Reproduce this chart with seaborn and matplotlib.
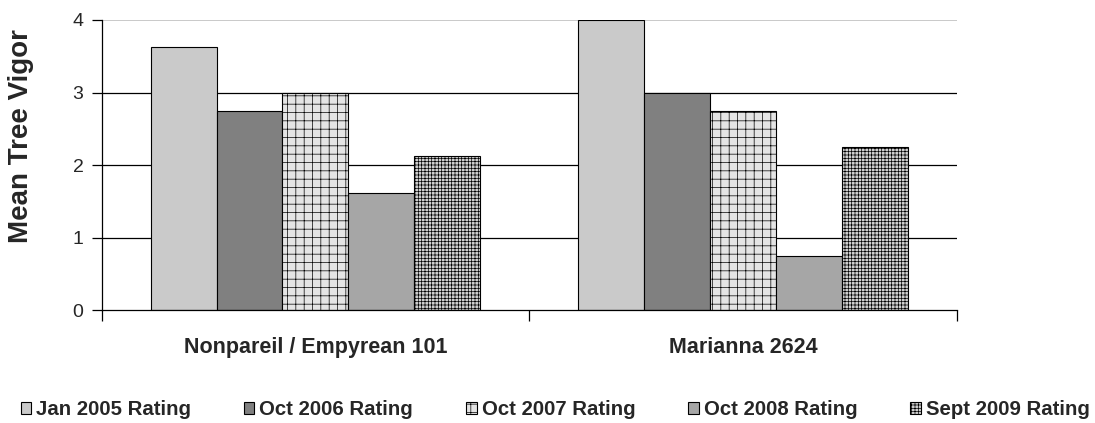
import pandas as pd
import numpy as np
import matplotlib.pyplot as plt
import seaborn as sns

# data
rootstocks = ['Nonpareil / Empyrean 101', 'Marianna 2624']
ratings = ['Jan 2005 Rating', 'Oct 2006 Rating', 'Oct 2007 Rating',
           'Oct 2008 Rating', 'Sept 2009 Rating']
nonpareil = [3.62, 2.75, 3.0, 1.62, 2.13]
marianna = [4.0, 3.0, 2.75, 0.75, 2.25]

df = pd.DataFrame({
    'rootstock': [rootstocks[0]] * 5 + [rootstocks[1]] * 5,
    'rating': ratings * 2,
    'vigor': nonpareil + marianna,
})

sns.set_style('white')
plt.rcParams['font.family'] = ['Liberation Sans', 'DejaVu Sans']
plt.rcParams['hatch.linewidth'] = 0.5

fills = ['#cacaca', '#808080', '#e4e4e4', '#a6a6a6', '#d0d0d0']
hatches = ['', '', '++', '', '+++++']

fig = plt.figure(figsize=(10.95, 4.23), dpi=100)
ax = fig.add_axes([0.0927, 0.266, 0.781, 0.687])

sns.barplot(data=df, x='rootstock', y='vigor', hue='rating', palette=fills,
            width=0.77, edgecolor='black', linewidth=0.8, saturation=1,
            errorbar=None, ax=ax, legend=True)

for cont, h in zip(ax.containers, hatches):
    for p in cont:
        p.set_hatch(h)

ax.set_ylim(0, 4)
ax.set_xlim(-0.5, 1.5)
ax.set_yticks([0, 1, 2, 3, 4])
for y in [1, 2, 3]:
    ax.axhline(y, color='black', linewidth=0.9, zorder=0)
ax.axhline(4, color='#c0c0c0', linewidth=1.2, zorder=0)

ax.set_xticks([-0.5, 0.5, 1.5], minor=False)
ax.set_xticklabels([])
ax.set_xticks([0, 1], minor=True)
ax.set_xticklabels(rootstocks, minor=True, fontsize=15.5, fontweight='bold')
ax.tick_params(axis='x', which='minor', length=0, pad=19)
ax.tick_params(axis='x', which='major', length=8, width=0.9, color='black', direction='out', bottom=True)
ax.tick_params(axis='y', length=7, width=0.9, color='black', direction='out', left=True, labelsize=14, pad=6)

for s in ['top', 'right']:
    ax.spines[s].set_visible(False)
for s in ['left', 'bottom']:
    ax.spines[s].set_color('black')
    ax.spines[s].set_linewidth(0.9)

ax.set_xlabel('')
ax.set_ylabel('Mean Tree Vigor', fontsize=20, fontweight='bold')
ax.yaxis.set_label_coords(-0.079, 0.6)

handles, labels = ax.get_legend_handles_labels()
for hd, h in zip(handles, hatches):
    hd.set_hatch(h)
ax.legend_.remove()
fig.legend(handles, labels, loc='center', bbox_to_anchor=(0.507, 0.031), ncol=5,
           frameon=False, prop={'weight': 'bold', 'size': 14.7},
           handlelength=0.5, handleheight=0.5, handletextpad=0.25,
           columnspacing=2.6)

plt.savefig('out.png', dpi=100)
